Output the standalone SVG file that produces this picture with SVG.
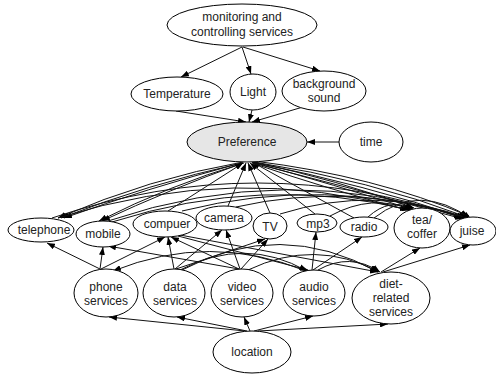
<svg xmlns="http://www.w3.org/2000/svg" width="496" height="376" viewBox="0 0 496 376">
<style>
.n{fill:#fff;stroke:#000;stroke-width:1}
.p{fill:#e6e6e6;stroke:#000;stroke-width:1}
text{font-family:"Liberation Sans",Arial,sans-serif;font-size:12px;fill:#222;text-anchor:middle}
.e path{fill:none;stroke:#111;stroke-width:1;marker-end:url(#a)}
</style>
<defs>
<marker id="a" markerUnits="userSpaceOnUse" markerWidth="8" markerHeight="6" refX="8" refY="3" orient="auto">
<path d="M0,0 L8,3 L0,6 z" fill="#000"/>
</marker>
</defs>
<rect width="496" height="376" fill="#fff"/>
<g class="e" id="connectors">
<path d="M242,47 L181,77"/>
<path d="M242,47 L251,74"/>
<path d="M243,47 L320,71"/>
<path d="M176,111 L246,122"/>
<path d="M252,110 L249,122"/>
<path d="M303,107 L252,122"/>
<path d="M339,142 L307,142"/>
<path d="M243,162 Q150,178 58,218"/>
<path d="M242,163 Q148,184 61,218"/>
<path d="M241,163 Q145,189 64,218"/>
<path d="M244,163 Q170,185 99,221"/>
<path d="M243,163 Q168,190 102,221"/>
<path d="M168,211 L243,163"/>
<path d="M228,206 L246,163"/>
<path d="M270,213 L248,163"/>
<path d="M315,214 L250,163"/>
<path d="M354,218 L252,162"/>
<path d="M252,162 Q335,185 411,209"/>
<path d="M253,162 Q338,180 414,208"/>
<path d="M252,163 Q330,190 408,210"/>
<path d="M253,162 Q365,185 465,218"/>
<path d="M254,162 Q370,180 467,217"/>
<path d="M253,163 Q360,190 463,219"/>
<path d="M254,161 Q375,176 469,216"/>
<path d="M52,218 Q258,148 462,218"/>
<path d="M58,218 Q235,162 408,210"/>
<path d="M108,221 Q286,160 465,218"/>
<path d="M112,222 Q262,174 410,210"/>
<path d="M182,211 Q325,175 467,218"/>
<path d="M236,207 Q350,181 468,218"/>
<path d="M280,214 Q375,184 470,219"/>
<path d="M330,216 Q372,193 412,210"/>
<path d="M368,217 Q390,197 413,209"/>
<path d="M374,218 Q420,182 471,219"/>
<path d="M100,269 L47,243"/>
<path d="M100,269 L103,247"/>
<path d="M101,269 L165,237"/>
<path d="M174,269 L168,237"/>
<path d="M175,269 L222,230"/>
<path d="M176,269 L265,239"/>
<path d="M239,269 L108,246"/>
<path d="M239,269 L171,237"/>
<path d="M240,269 L226,230"/>
<path d="M241,269 L268,239"/>
<path d="M178,236 L308,270"/>
<path d="M180,235 L378,272"/>
<path d="M312,270 L316,232"/>
<path d="M313,270 L362,237"/>
<path d="M381,272 L420,248"/>
<path d="M383,272 L470,245"/>
<path d="M306,271 Q210,232 113,271"/>
<path d="M180,270 Q245,236 307,271"/>
<path d="M182,270 Q280,218 378,272"/>
<path d="M248,270 Q315,238 379,272"/>
<path d="M318,270 Q350,252 380,272"/>
<path d="M245,331 L109,317"/>
<path d="M247,331 L177,317"/>
<path d="M250,331 L244,317"/>
<path d="M254,331 L313,316"/>
<path d="M258,331 L388,324"/>
</g>
<g id="monitoring"><ellipse class="n" cx="242" cy="25" rx="75" ry="21"/><text x="242" y="21">monitoring and</text><text x="242" y="36">controlling services</text></g>
<g id="temperature"><ellipse class="n" cx="177" cy="94" rx="46" ry="17"/><text x="177" y="98">Temperature</text></g>
<g id="light"><ellipse class="n" cx="253" cy="92" rx="23" ry="18"/><text x="253" y="96">Light</text></g>
<g id="background"><ellipse class="n" cx="324" cy="91" rx="42" ry="20"/><text x="324" y="88">background</text><text x="324" y="102">sound</text></g>
<g id="preference"><ellipse class="p" cx="247" cy="142" rx="60" ry="20"/><text x="247" y="146">Preference</text></g>
<g id="time"><ellipse class="n" cx="371" cy="142" rx="32" ry="20"/><text x="371" y="146">time</text></g>
<g id="telephone"><ellipse class="n" cx="41" cy="230" rx="33" ry="12"/><text x="44" y="234">telephone</text></g>
<g id="mobile"><ellipse class="n" cx="103" cy="234" rx="27" ry="13"/><text x="103" y="238">mobile</text></g>
<g id="compuer"><ellipse class="n" cx="165" cy="224" rx="32" ry="13"/><text x="167" y="228">compuer</text></g>
<g id="camera"><ellipse class="n" cx="224" cy="218" rx="28" ry="12"/><text x="224" y="222">camera</text></g>
<g id="tv"><ellipse class="n" cx="270" cy="226" rx="17" ry="13"/><text x="270" y="231">TV</text></g>
<g id="mp3"><ellipse class="n" cx="317" cy="223" rx="20" ry="9"/><text x="318" y="228">mp3</text></g>
<g id="radio"><ellipse class="n" cx="364" cy="227" rx="24" ry="10"/><text x="364" y="231">radio</text></g>
<g id="tea"><ellipse class="n" cx="422" cy="228" rx="28" ry="20"/><text x="422" y="224">tea/</text><text x="422" y="238">coffer</text></g>
<g id="juise"><ellipse class="n" cx="473" cy="231" rx="23" ry="14"/><text x="472" y="235">juise</text></g>
<g id="phone"><ellipse class="n" cx="106" cy="293" rx="32" ry="24"/><text x="106" y="291">phone</text><text x="106" y="305">services</text></g>
<g id="data"><ellipse class="n" cx="174" cy="293" rx="31" ry="24"/><text x="175" y="291">data</text><text x="175" y="305">services</text></g>
<g id="video"><ellipse class="n" cx="242" cy="293" rx="31" ry="24"/><text x="242" y="291">video</text><text x="242" y="305">services</text></g>
<g id="audio"><ellipse class="n" cx="314" cy="293" rx="31" ry="23"/><text x="314" y="291">audio</text><text x="314" y="305">services</text></g>
<g id="diet"><ellipse class="n" cx="391" cy="298" rx="39" ry="26"/><text x="391" y="288">diet-</text><text x="391" y="302">related</text><text x="391" y="316">services</text></g>
<g id="location"><ellipse class="n" cx="252" cy="352" rx="39" ry="21"/><text x="252" y="356">location</text></g>
</svg>
